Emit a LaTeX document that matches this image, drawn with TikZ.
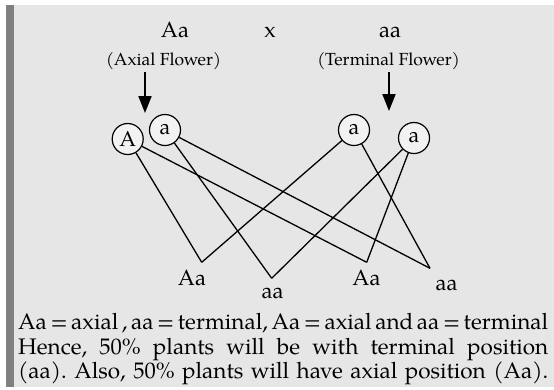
\documentclass[tikz,border=0pt]{standalone}
\usepackage{fontspec}
\setmainfont{TeX Gyre Pagella}
\usetikzlibrary{arrows.meta}
\definecolor{bg}{RGB}{230,230,230}
\definecolor{bar}{RGB}{128,128,128}
\definecolor{cfill}{RGB}{242,242,242}
\frenchspacing
\newcommand{\fullline}[1]{\hbox to 530pt{\spaceskip=0.2em plus 1em minus 0.12em\relax #1}}
\begin{document}
\begin{tikzpicture}[x=1pt,y=-1pt,
  gam/.style={circle,draw,line width=1.2pt,fill=cfill,minimum size=31pt,inner sep=0pt,font=\fontsize{21.5}{21.5}\selectfont},
  crossline/.style={line width=1.3pt},
  down/.style={line width=2pt,-{Triangle[width=13pt,length=17pt]}},
  lab/.style={anchor=base,inner sep=0pt,font=\fontsize{22}{22}\selectfont},
  flab/.style={anchor=base,inner sep=0pt,font=\fontsize{17.5}{17.5}\selectfont},
  expl/.style={anchor=base west,inner sep=0pt,font=\fontsize{22.5}{25}\selectfont}]
\useasboundingbox (0,0) rectangle (554,389);
\fill[bg] (6,5) rectangle (554,387);
\fill[bar] (6,5) rectangle (14,387);
% parents
\node[lab] (p1) at (175,37) {Aa};
\node[lab] (px) at (270,37) {x};
\node[lab] (p2) at (390,37) {aa};
\node[flab] (f1) at (163.5,65) {(Axial Flower)};
\node[flab] (f2) at (388.5,65) {(Terminal Flower)};
% arrows
\coordinate (a1s) at (145,72);
\coordinate (a1e) at (145,113);
\coordinate (a2s) at (389,72);
\coordinate (a2e) at (389,111);
\draw[down] (a1s) -- (a1e);
\draw[down] (a2s) -- (a2e);
% gametes
\node[gam] (gA) at (127.7,139) {A};
\node[gam] (ga1) at (165,130) {a};
\node[gam] (ga2) at (354,130) {a};
\node[gam] (ga3) at (414,138) {a};
% offspring vertices
\coordinate (v1) at (201.7,262.3);
\coordinate (v2) at (271.7,278.3);
\coordinate (v3) at (366.7,262.3);
\coordinate (v4) at (430,268.3);
\draw[crossline] (gA) -- (v1);
\draw[crossline] (gA) -- (v3);
\draw[crossline] (ga1) -- (v2);
\draw[crossline] (ga1) -- (v4);
\draw[crossline] (ga2) -- (v1);
\draw[crossline] (ga2) -- (v4);
\draw[crossline] (ga3) -- (v2);
\draw[crossline] (ga3) -- (v3);
% offspring labels
\node[lab] (o1) at (192,285) {Aa};
\node[lab] (o2) at (272.5,298) {aa};
\node[lab] (o3) at (366.5,285) {Aa};
\node[lab] (o4) at (446.5,290) {aa};
% explanation
\node[expl] (e1) at (18,329) {\fullline{Aa = axial , aa = terminal, Aa = axial and aa = terminal}};
\node[expl] (e2) at (18,354) {\fullline{Hence, 50\% plants will be with terminal position}};
\node[expl] (e3) at (18,378) {\fullline{(aa). Also, 50\% plants will have axial position (Aa).}};
\end{tikzpicture}
\end{document}
